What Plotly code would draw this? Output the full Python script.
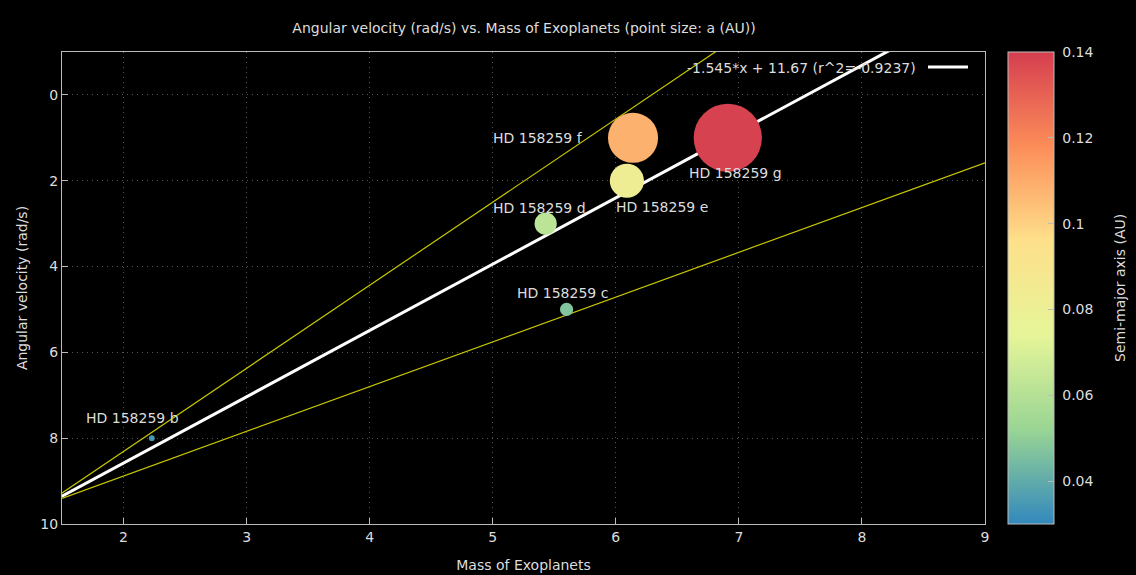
import plotly.graph_objects as go

# Planet data (HD 158259 system)
planets = ["HD 158259 b", "HD 158259 c", "HD 158259 d", "HD 158259 e", "HD 158259 f", "HD 158259 g"]
mass = [2.23, 5.60, 5.43, 6.09, 6.14, 6.91]
ang_vel = [8.0, 5.0, 3.0, 2.0, 1.0, 1.0]
semi_major = [0.0345, 0.047, 0.062, 0.082, 0.1085, 0.1388]

# Linear fit and bounding lines
fit_slope, fit_intercept, fit_r = -1.545, 11.67, -0.9237
upper_slope, upper_intercept = -1.936, 12.18
lower_slope, lower_intercept = -1.043, 10.97

x_range = [1.5, 9.0]
y_range = [10.0, -1.0]
cb_range = [0.03, 0.14]
cb_ticks = [0.04, 0.06, 0.08, 0.1, 0.12, 0.14]
cb_ticktext = ["0.04", "0.06", "0.08", "0.1", "0.12", "0.14"]

# Label offsets in pixels (dx, dy) relative to each point
label_offsets = [(-19, 20), (-4, 16), (-6, 16), (35, -26), (-95, 0), (8, -35)]

spectral = [
    [0.0, "#3288bd"], [0.2, "#99d594"], [0.4, "#e6f598"],
    [0.6, "#fee08b"], [0.8, "#fc8d59"], [1.0, "#d53e4f"],
]

TXT = "#dddddd"
AX = "#bbbbbb"
FONT = "DejaVu Sans"
FS = 14


def line_y(slope, intercept, xs):
    return [slope * x + intercept for x in xs]


fig = go.Figure()

fig.add_trace(go.Scatter(
    x=x_range, y=line_y(upper_slope, upper_intercept, x_range),
    mode="lines", line=dict(color="#c8c800", width=1.2),
    showlegend=False, hoverinfo="skip",
))
fig.add_trace(go.Scatter(
    x=x_range, y=line_y(lower_slope, lower_intercept, x_range),
    mode="lines", line=dict(color="#c8c800", width=1.2),
    showlegend=False, hoverinfo="skip",
))
fig.add_trace(go.Scatter(
    x=x_range, y=line_y(fit_slope, fit_intercept, x_range),
    mode="lines", line=dict(color="white", width=3),
    showlegend=False, hoverinfo="skip",
))

fig.add_trace(go.Scatter(
    x=mass, y=ang_vel, mode="markers", text=planets,
    marker=dict(
        size=[600 * (a - 0.025) for a in semi_major],
        sizemode="diameter",
        color=semi_major,
        cmin=cb_range[0], cmax=cb_range[1],
        colorscale=spectral,
        opacity=1,
        line=dict(width=0),
        colorbar=dict(
            xref="container", x=1008 / 1136, xanchor="left", xpad=0,
            y=0.5, yanchor="middle", ypad=0,
            len=472, lenmode="pixels",
            thickness=46, thicknessmode="pixels",
            outlinecolor=AX, outlinewidth=1,
            tickvals=cb_ticks, ticktext=[" " + t for t in cb_ticktext],
            ticks="inside", ticklen=6, tickcolor=AX,
            tickfont=dict(color=TXT, size=FS, family=FONT),
        ),
    ),
    showlegend=False,
))

# Colorbar title
fig.add_annotation(
    xref="paper", yref="paper", x=(1120 - 62) / 923, y=0.5,
    xanchor="center", yanchor="middle", showarrow=False, textangle=-90,
    text="Semi-major axis (AU)", font=dict(color=TXT, size=FS, family=FONT),
)

for name, x, y, (dx, dy) in zip(planets, mass, ang_vel, label_offsets):
    fig.add_annotation(
        x=x, y=y, text=name, showarrow=False,
        xshift=dx, yshift=dy, xanchor="center", yanchor="middle",
        font=dict(color=TXT, size=FS, family=FONT),
    )

# Key for the fitted line
fig.add_annotation(
    xref="paper", yref="paper", x=(918 - 62) / 923, y=1 - (68 - 52) / 472,
    xanchor="right", yanchor="middle", showarrow=False,
    text=f"{fit_slope}*x + {fit_intercept} (r^2={fit_r})",
    font=dict(color=TXT, size=FS, family=FONT),
)
fig.add_shape(
    type="line", xref="paper", yref="paper",
    x0=(928 - 62) / 923, x1=(968 - 62) / 923,
    y0=1 - (67 - 52) / 472, y1=1 - (67 - 52) / 472,
    line=dict(color="white", width=3),
)

axis_common = dict(
    showline=True, linecolor=AX, linewidth=1, mirror=True,
    ticks="inside", ticklen=6, tickcolor=AX,
    showgrid=True, gridcolor="#555555", griddash="1px,4px", gridwidth=1,
    zeroline=False, automargin=False,
    tickfont=dict(color=TXT, size=FS, family=FONT),
)

fig.update_xaxes(
    range=x_range, dtick=1, tick0=2,
    title=dict(text="Mass of Exoplanets", font=dict(color=TXT, size=FS, family=FONT), standoff=16),
    **axis_common,
)
fig.update_yaxes(
    range=y_range, dtick=2, tick0=0,
    title=dict(text="Angular velocity (rad/s)", font=dict(color=TXT, size=FS, family=FONT), standoff=9),
    **axis_common,
)

fig.update_layout(
    width=1136, height=575,
    paper_bgcolor="black", plot_bgcolor="black",
    margin=dict(l=62, r=151, t=52, b=51, autoexpand=False),
    title=dict(
        text="Angular velocity (rad/s) vs. Mass of Exoplanets (point size: a (AU))",
        x=524 / 1136, xanchor="center", y=1 - 28 / 575, yanchor="middle",
        font=dict(color=TXT, size=FS, family=FONT),
    ),
    font=dict(family=FONT, color=TXT),
    showlegend=False,
)

fig.write_html("out.html")
